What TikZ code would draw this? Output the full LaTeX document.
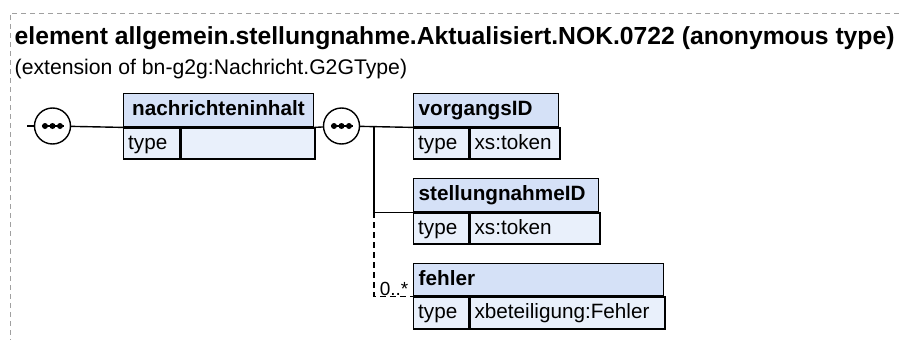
\documentclass[tikz,border=0pt]{standalone}
\usepackage{fontspec}
\setmainfont{Liberation Sans}
\usetikzlibrary{positioning}

\definecolor{hdrblue}{RGB}{213,225,247}
\definecolor{cellblue}{RGB}{233,240,251}
\definecolor{framegray}{RGB}{160,160,160}

\begin{document}
\begin{tikzpicture}[x=1pt, y=-1pt, line width=1.4pt,
    hdr/.style={draw, fill=hdrblue, anchor=north west, minimum height=33pt, inner sep=0pt,
      text height=15.5pt, text depth=4.5pt,
      font=\fontsize{20.7}{24}\selectfont\bfseries, align=left},
    cell/.style={draw, fill=cellblue, anchor=north west, minimum height=31pt, inner sep=0pt,
      text height=15.5pt, text depth=4.5pt,
      font=\fontsize{20.7}{24}\selectfont, align=left},
    seq/.style={draw, circle, fill=white, minimum size=36pt, inner sep=0pt},
    optline/.style={dash pattern=on 6pt off 4pt}]
  \useasboundingbox (0,0) rectangle (899,340);
  % outer frame
  \draw[framegray, line width=0.8pt, dash pattern=on 5pt off 4pt] (899,13) -- (10,13) -- (10,340);
  \node[anchor=base west, inner sep=0pt, font=\fontsize{24.7}{28}\selectfont\bfseries] (title) at (14,44.5)
    {element allgemein.stellungnahme.Aktualisiert.NOK.0722 (anonymous type)};
  \node[anchor=base west, inner sep=0pt, font=\fontsize{21.2}{25}\selectfont] (ext) at (14,74)
    {(extension of bn-g2g:Nachricht.G2GType)};

  % sequence groups
  \coordinate (start) at (27,126);
  \node[seq] (seqA) at (52.5,126) {};
  \node[seq] (seqB) at (341.5,126) {};
  \foreach \s in {seqA,seqB} {
    \draw (\s.center) ++(-11,0) -- ++(22,0);
    \foreach \d in {-7.5,0,7.5}
      \fill (\s.center) ++(\d,0) circle (3);
  }

  % nachrichteninhalt
  \node[hdr, text width=190pt] (nachr) at (123,93) {\hspace*{8.5pt}nachrichteninhalt};
  \node[cell, text width=56pt] (nachrT) at (nachr.south west) {\hspace*{4.5pt}type};
  \node[cell, text width=134pt] (nachrV) at (nachrT.north east) {};

  % vorgangsID
  \node[hdr, text width=145pt] (vorg) at (413,93) {\hspace*{5pt}vorgangsID};
  \node[cell, text width=55pt] (vorgT) at (vorg.south west) {\hspace*{4.5pt}type};
  \node[cell, text width=90pt] (vorgV) at (vorgT.north east) {\hspace*{4.5pt}xs:token};

  % stellungnahmeID
  \node[hdr, text width=185pt] (stell) at (413,178) {\hspace*{5pt}stellungnahmeID};
  \node[cell, text width=55pt] (stellT) at (stell.south west) {\hspace*{4.5pt}type};
  \node[cell, text width=130pt] (stellV) at (stellT.north east) {\hspace*{4.5pt}xs:token};

  % fehler
  \node[hdr, text width=250pt, minimum height=32pt] (fehl) at (413,263) {\hspace*{5pt}fehler};
  \node[cell, text width=55pt, minimum height=32pt] (fehlT) at (fehl.south west) {\hspace*{4.5pt}type};
  \node[cell, text width=195pt, minimum height=32pt] (fehlV) at (fehlT.north east) {\hspace*{4.5pt}xbeteiligung:Fehler};

  % connectors
  \coordinate (trunk) at (374,126);
  \draw (start) -- (seqA);
  \draw (seqA) -- (nachr.south west);
  \draw (nachr.south east) -- (seqB);
  \draw (seqB) -- (vorg.south west);
  \draw (trunk) |- (stell.south west);
  \draw[optline] (stell.south west -| trunk) |- (fehl.south west);
  \node[anchor=base east, inner sep=0pt, font=\fontsize{19}{22}\selectfont] (mult) at (409,295) {0..*};
\end{tikzpicture}
\end{document}
